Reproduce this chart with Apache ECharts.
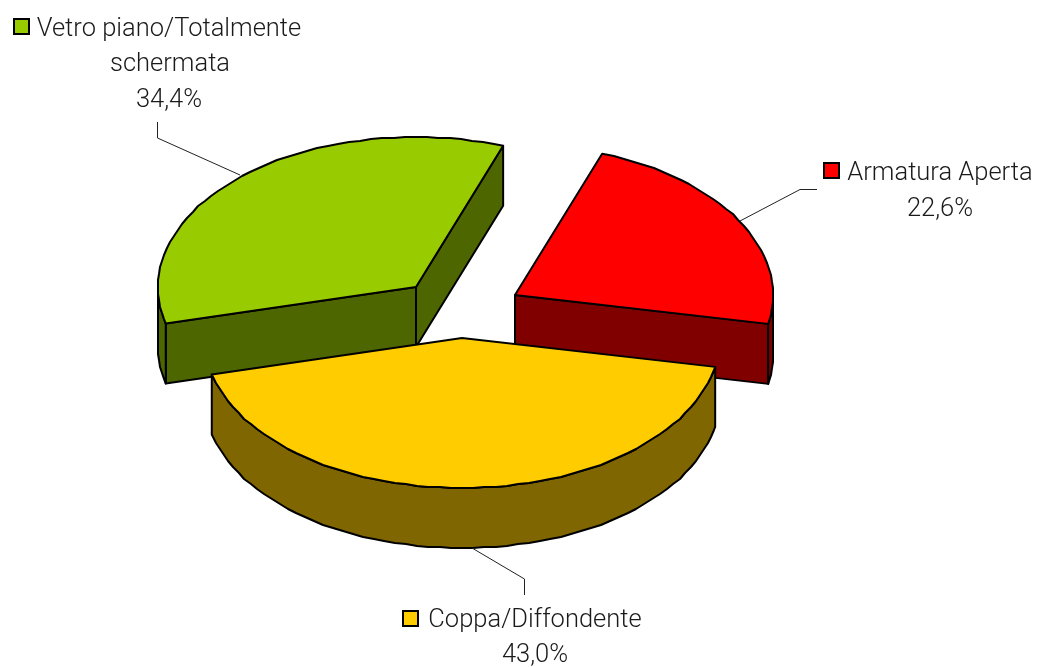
<!DOCTYPE html>
<html>
<head>
<meta charset="utf-8">
<title>Pie</title>
<script src="https://cdn.jsdelivr.net/npm/echarts@6/dist/echarts.min.js"></script>
<style>
  html, body { margin: 0; padding: 0; background: #fff; }
  #main { width: 1039px; height: 667px; }
</style>
</head>
<body>
<div id="main"></div>
<script>
// data, clockwise from the left side of the pie
const categories = ["Vetro piano/Totalmente\nschermata", "Armatura Aperta", "Coppa/Diffondente"];
const shares = [34.4, 22.6, 43.0];

// colours of each slice
const topColors = ["#99cc00", "#ff0000", "#ffcc00"];
const sideColors = ["#4d6600", "#800000", "#806600"];

// layout of the projected pie
const centers = [[416, 287], [515, 295], [462, 338]];
const rx = 258, ry = 150, depth = 60;
const startAngle = 165.9;
const step = 2.5;
const grid = 1; // the outline is snapped to whole pixels, it is jagged in the original

// swatch + text lines + leader for each label
const swatches = [[14, 19], [824, 163], [403, 611]];
const lineCenters = [
  [[169, 30], [170, 65], [169, 101]],
  [[940, 174], [940, 210]],
  [[535, 621], [535, 656]]
];
const leaders = [
  [[157.5, 122], [157.5, 138], [240, 175]],
  [[817, 189.5], [800, 189.5], [740, 221]],
  [[524.5, 595], [524.5, 579], [472, 548]]
];

const font = '300 25.5px Roboto, "Liberation Sans", sans-serif';

function rad(d) { return d * Math.PI / 180; }
function snap(v) { return Math.round(v / grid) * grid; }

function ellipsePoint(c, a, dy) {
  return [c[0] + rx * Math.cos(rad(a)), c[1] + dy + ry * Math.sin(rad(a))];
}

function arcPoints(c, a0, a1, dy) {
  const pts = [ellipsePoint(c, a0, dy)];
  for (let a = Math.ceil(a0 / step + 0.5) * step; a < a1 - step / 2; a += step) {
    const p = ellipsePoint(c, a, dy);
    pts.push([snap(p[0]), snap(p[1])]);
  }
  pts.push(ellipsePoint(c, a1, dy));
  return pts;
}

function poly(points, fill) {
  return {
    type: "polygon",
    shape: { points: points },
    style: { fill: fill, stroke: "#000", lineWidth: 2, lineJoin: "round" }
  };
}

// part of the rim that faces the viewer (between 0 and 180 degrees)
function rimFaces(c, a0, a1, color) {
  const out = [];
  for (let k = 0; k <= 1; k++) {
    const lo = Math.max(a0, k * 360), hi = Math.min(a1, k * 360 + 180);
    if (hi > lo) {
      const top = arcPoints(c, lo, hi, 0);
      const bottom = arcPoints(c, lo, hi, depth).reverse();
      out.push(poly(top.concat(bottom), color));
    }
  }
  return out;
}

function radialFace(c, a, color) {
  const p = ellipsePoint(c, a, 0);
  return poly([c, p, [p[0], p[1] + depth], [c[0], c[1] + depth]], color);
}

function renderSlice(params, api) {
  const i = params.dataIndex;
  let before = 0;
  for (let k = 0; k < i; k++) before += shares[k];
  const a0 = startAngle + before * 3.6;
  const a1 = a0 + api.value(0) * 3.6;
  const c = centers[i];
  const children = [];

  // cut faces turned to the viewer
  if (i === 0) {
    children.push(radialFace(c, a1, sideColors[i]));
    children.push(radialFace(c, a0, sideColors[i]));
  }
  if (i === 1) children.push(radialFace(c, a1, sideColors[i]));
  rimFaces(c, a0, a1, sideColors[i]).forEach(f => children.push(f));

  // top face
  children.push(poly([c].concat(arcPoints(c, a0, a1, 0)), topColors[i]));

  // leader
  children.push({
    type: "polyline",
    shape: { points: leaders[i] },
    style: { fill: null, stroke: "#222", lineWidth: 1 }
  });

  // swatch
  children.push({
    type: "rect",
    shape: { x: swatches[i][0], y: swatches[i][1], width: 15, height: 15 },
    style: { fill: topColors[i], stroke: "#000", lineWidth: 2 }
  });

  // label text
  const lines = categories[i].split("\n");
  lines.push(api.value(0).toFixed(1).replace(".", ",") + "%");
  lines.forEach((t, n) => {
    children.push({
      type: "text",
      style: {
        text: t, x: lineCenters[i][n][0], y: lineCenters[i][n][1],
        font: font, fill: "#1a1a1a", textAlign: "center", textVerticalAlign: "middle"
      }
    });
  });

  return { type: "group", children: children };
}

const mychart = echarts.init(document.getElementById("main"));
mychart.setOption({
  animation: false,
  backgroundColor: "#fff",
  series: [{
    type: "custom",
    coordinateSystem: "none",
    silent: true,
    renderItem: renderSlice,
    data: shares.map(v => [v])
  }]
});
</script>
</body>
</html>
